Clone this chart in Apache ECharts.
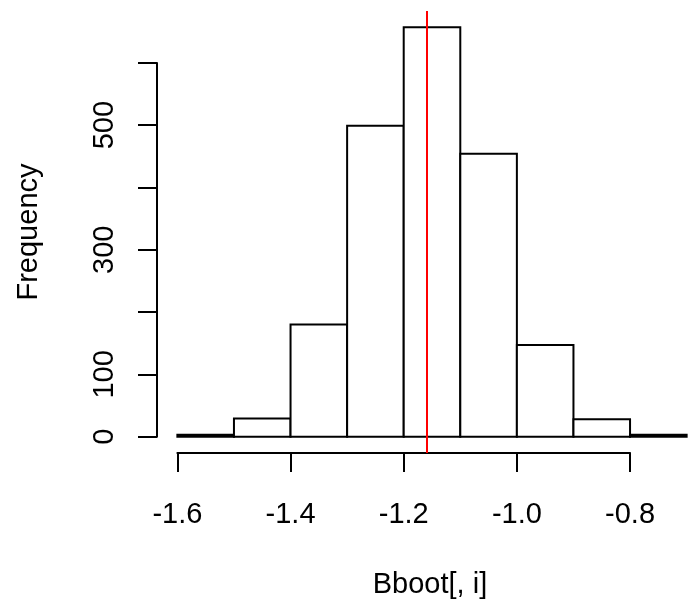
<!DOCTYPE html>
<html>
<head>
<meta charset="utf-8">
<script src="https://cdn.jsdelivr.net/npm/echarts@6/dist/echarts.min.js"></script>
<style>
html,body{margin:0;padding:0;background:#fff;}
#c{width:689px;height:611px;}
</style>
</head>
<body>
<div id="c"></div>
<script>
// ---- data ----
const binLeft = [-1.6, -1.5, -1.4, -1.3, -1.2, -1.1, -1.0, -0.9, -0.8];
const binWidth = 0.1;
const counts = [3, 29, 180, 499, 657, 454, 147, 28, 3];
const vLineX = -1.157;
const xTickValues = [-1.6, -1.4, -1.2, -1.0, -0.8];
const xTickLabels = ['-1.6', '-1.4', '-1.2', '-1.0', '-0.8'];
const yTickValues = [0, 100, 200, 300, 400, 500, 600];
const yTickLabels = ['0', '100', '', '300', '', '500', ''];
const xTitle = 'Bboot[, i]';
const yTitle = 'Frequency';

// ---- layout ----
const FONT = '"Liberation Sans", Arial, sans-serif';
const FS = 29;
const LW = 2;
const W = 689;
const plot = {left: 157, top: 11, width: 550, height: 442}; // full (virtual) plot region, extends past the right edge

const xLo = binLeft[0], xHi = binLeft[binLeft.length - 1] + binWidth;
const xPad = (xHi - xLo) * 0.04;
const xMinU = xLo - xPad, xMaxU = xHi + xPad;
const yTop = Math.max(...counts);
const yPad = yTop * 0.04;
const yMinU = -yPad, yMaxU = yTop + yPad;

const xScale = plot.width / (xMaxU - xMinU);
function px(v) { return plot.left + (v - xMinU) * xScale; }
function py(v) { return plot.top + (yMaxU - v) / (yMaxU - yMinU) * plot.height; }

// visible part of the plot region (clipped by the canvas edge)
const visWidth = W - plot.left;
const xMaxVis = xMinU + visWidth / xScale;
const nameShift = (plot.width - visWidth) - 4; // centre the x title on the full region

const xA = xTickValues[0], xB = xTickValues[xTickValues.length - 1];
const yA = yTickValues[0], yB = yTickValues[yTickValues.length - 1];

const histData = binLeft.map((l, i) => [l, l + binWidth, counts[i]]);

const chart = echarts.init(document.getElementById('c'), null, {renderer: 'canvas'});
chart.setOption({
  backgroundColor: '#fff',
  animation: false,
  grid: [
    {left: plot.left, top: plot.top, width: visWidth, height: plot.height},
    {left: px(xA), top: plot.top, width: px(xB) - px(xA), height: plot.height},
    {left: plot.left, top: py(yB), width: visWidth, height: py(yA) - py(yB)}
  ],
  xAxis: [
    {gridIndex: 0, type: 'value', min: xMinU, max: xMaxVis,
      axisLine: {show: false}, axisTick: {show: false}, axisLabel: {show: false}, splitLine: {show: false},
      name: xTitle, nameLocation: 'middle', nameGap: 117,
      nameTextStyle: {fontFamily: FONT, fontSize: FS, color: '#000', padding: [0, 0, 0, nameShift]}},
    {gridIndex: 1, type: 'value', min: xA, max: xB, interval: 0.2,
      axisLine: {show: true, lineStyle: {color: '#000', width: LW}},
      axisTick: {show: true, length: 19, lineStyle: {color: '#000', width: LW}},
      axisLabel: {show: true, margin: 47, fontFamily: FONT, fontSize: FS, color: '#000',
        formatter: function (v) { const i = xTickValues.findIndex(t => Math.abs(t - v) < 1e-6); return i >= 0 ? xTickLabels[i] : ''; }},
      splitLine: {show: false}},
    {gridIndex: 2, type: 'value', show: false, min: 0, max: 1}
  ],
  yAxis: [
    {gridIndex: 0, type: 'value', min: yMinU, max: yMaxU,
      axisLine: {show: false}, axisTick: {show: false}, axisLabel: {show: false}, splitLine: {show: false},
      name: yTitle, nameLocation: 'middle', nameGap: 114,
      nameTextStyle: {fontFamily: FONT, fontSize: FS, color: '#000'}},
    {gridIndex: 1, type: 'value', show: false, min: 0, max: 1},
    {gridIndex: 2, type: 'value', min: yA, max: yB, interval: 100,
      axisLine: {show: true, lineStyle: {color: '#000', width: LW}},
      axisTick: {show: true, length: 19, lineStyle: {color: '#000', width: LW}},
      axisLabel: {show: true, rotate: 90, margin: 38, fontFamily: FONT, fontSize: FS, color: '#000',
        formatter: function (v) { const i = yTickValues.findIndex(t => Math.abs(t - v) < 1e-6); return i >= 0 ? yTickLabels[i] : ''; }},
      splitLine: {show: false}}
  ],
  series: [{
    type: 'custom',
    xAxisIndex: 0, yAxisIndex: 0,
    data: histData,
    encode: {x: [0, 1], y: 2},
    renderItem: function (params, api) {
      const p0 = api.coord([api.value(0), api.value(2)]);
      const p1 = api.coord([api.value(1), 0]);
      return {
        type: 'rect',
        shape: {x: p0[0], y: p0[1], width: p1[0] - p0[0], height: p1[1] - p0[1]},
        style: {fill: '#fff', stroke: '#000', lineWidth: LW}
      };
    },
    markLine: {
      silent: true, symbol: ['none', 'none'], label: {show: false},
      lineStyle: {color: '#ff0000', width: 2, type: 'solid'},
      data: [{xAxis: vLineX}],
      z: 10
    }
  }]
});
</script>
</body>
</html>
